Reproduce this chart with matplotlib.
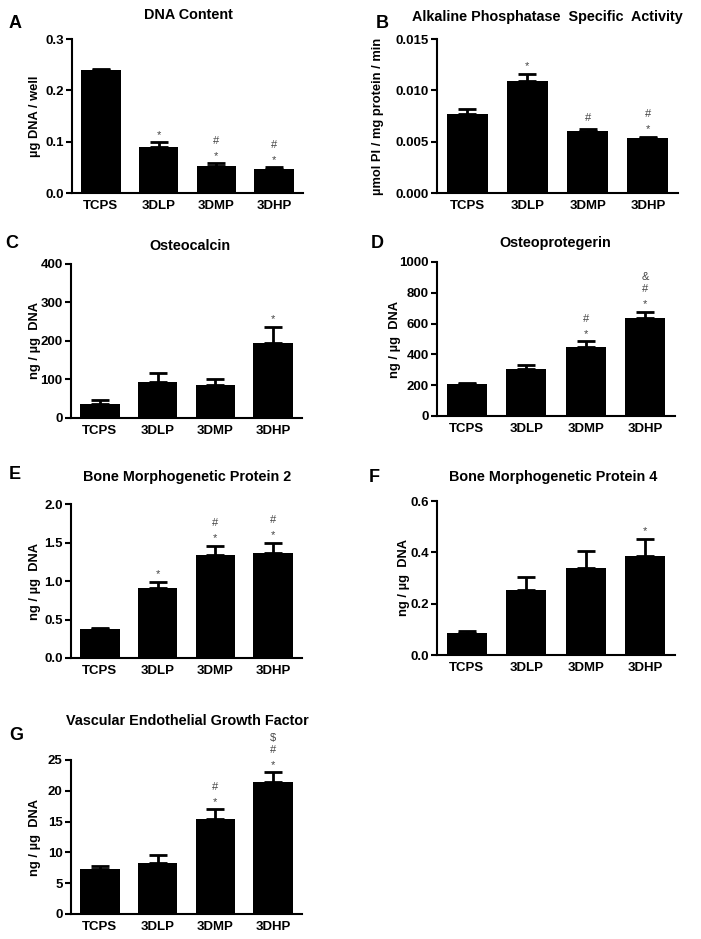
import matplotlib
matplotlib.use('Agg')
import matplotlib.pyplot as plt

plt.rcParams['font.family'] = ['Liberation Sans', 'DejaVu Sans']

groups = ['TCPS', '3DLP', '3DMP', '3DHP']

# A - DNA content
dna_mean = [0.240, 0.089, 0.053, 0.047]
dna_err = [0.001, 0.010, 0.005, 0.003]
dna_sig = ['', '*', '*#', '*#']

# B - ALP specific activity
alp_mean = [0.0077, 0.0109, 0.0060, 0.0054]
alp_err = [0.0005, 0.0007, 0.0002, 0.0001]
alp_sig = ['', '*', '#', '*#']

# C - osteocalcin
ocn_mean = [37, 94, 87, 195]
ocn_err = [10, 23, 14, 41]
ocn_sig = ['', '', '', '*']

# D - osteoprotegerin
opg_mean = [207, 308, 447, 636]
opg_err = [8, 22, 38, 42]
opg_sig = ['', '', '*#', '*#&']

# E - BMP-2
bmp2_mean = [0.375, 0.915, 1.34, 1.36]
bmp2_err = [0.013, 0.075, 0.12, 0.14]
bmp2_sig = ['', '*', '*#', '*#']

# F - BMP-4
bmp4_mean = [0.087, 0.252, 0.338, 0.387]
bmp4_err = [0.008, 0.052, 0.066, 0.065]
bmp4_sig = ['', '', '', '*']

# G - VEGF
vegf_mean = [7.3, 8.3, 15.5, 21.5]
vegf_err = [0.5, 1.2, 1.5, 1.5]
vegf_sig = ['', '', '*#', '*#$']

W, H = 701, 939
fig = plt.figure(figsize=(W / 100, H / 100), dpi=100)

# glyph centre above baseline, in px
glyph_mid = {'*': 5.9, '#': 3.7, '&': 3.8, '$': 3.6}


def px_axes(l, t, r, b):
    return fig.add_axes([l / W, 1 - b / H, (r - l) / W, (b - t) / H])


def panel(box, mean, err, sig, ylim, yticks, fmt, ylabel, label_x):
    ax = px_axes(*box)
    x = list(range(len(groups)))
    ax.bar(x, mean, width=0.68, color='black', zorder=2)
    ax.errorbar(x, mean, yerr=[[0] * len(err), err], fmt='none', ecolor='black',
                elinewidth=2, capsize=6.5, capthick=2, zorder=1)
    for i, s in enumerate(sig):
        for k, ch in enumerate(s):
            centre = 10.5 + 12.3 * k
            if ch == '#' and k == 0:
                centre = 12
            dy = (centre - glyph_mid[ch]) * 0.72
            ax.annotate(ch, (i, mean[i] + err[i]), xytext=(0, dy),
                        textcoords='offset points', ha='center', va='baseline',
                        fontsize=8, color='#444444')
    ax.set_xlim(-0.5, 3.5)
    ax.set_ylim(*ylim)
    ax.set_yticks(yticks)
    ax.set_yticklabels([fmt.format(v) for v in yticks], fontweight='bold', fontsize=9.5)
    ax.set_xticks(x)
    ax.set_xticklabels(groups, fontweight='bold', fontsize=9.5)
    ax.tick_params(axis='x', length=0, pad=5)
    ax.tick_params(axis='y', length=4.5, width=1.5, pad=1.5)
    for sp in ['top', 'right']:
        ax.spines[sp].set_visible(False)
    for sp in ['left', 'bottom']:
        ax.spines[sp].set_linewidth(1.5)
    ax.set_ylabel(ylabel, fontweight='bold', fontsize=9.3)
    l, t, r, b = box
    ax.yaxis.set_label_coords((label_x + 8 - l) / (r - l), 0.5)
    return ax


panel((72, 39, 303, 193), dna_mean, dna_err, dna_sig, (0, 0.3),
      [0.0, 0.1, 0.2, 0.3], '{:.1f}', 'µg DNA / well', 33)
panel((437, 39, 678, 193), alp_mean, alp_err, alp_sig, (0, 0.015),
      [0.0, 0.005, 0.010, 0.015], '{:.3f}', 'µmol PI / mg protein / min', 376)
panel((71, 264, 302, 418), ocn_mean, ocn_err, ocn_sig, (0, 400),
      [0, 100, 200, 300, 400], '{:d}', 'ng / µg  DNA', 33)
panel((437, 262, 675, 416), opg_mean, opg_err, opg_sig, (0, 1000),
      [0, 200, 400, 600, 800, 1000], '{:d}', 'ng / µg  DNA', 393)
panel((71, 504, 302, 658), bmp2_mean, bmp2_err, bmp2_sig, (0, 2.0),
      [0.0, 0.5, 1.0, 1.5, 2.0], '{:.1f}', 'ng / µg  DNA', 33)
panel((437, 501, 675, 655), bmp4_mean, bmp4_err, bmp4_sig, (0, 0.6),
      [0.0, 0.2, 0.4, 0.6], '{:.1f}', 'ng / µg  DNA', 402)
panel((71, 760, 302, 914), vegf_mean, vegf_err, vegf_sig, (0, 25),
      [0, 5, 10, 15, 20, 25], '{:d}', 'ng / µg  DNA', 33)

titles = [('DNA Content', 188, 15), ('Alkaline Phosphatase  Specific  Activity', 547, 17),
          ('Osteocalcin', 190, 246), ('Osteoprotegerin', 555, 243),
          ('Bone Morphogenetic Protein 2', 187, 477), ('Bone Morphogenetic Protein 4', 553, 477),
          ('Vascular Endothelial Growth Factor', 187, 721)]
for t, x, y in titles:
    fig.text(x / W, 1 - y / H, t, ha='center', va='center', fontweight='bold', fontsize=10.4)

letters = [('A', 15, 23), ('B', 382, 24), ('C', 12, 244), ('D', 377, 244),
           ('E', 15, 475), ('F', 374, 477), ('G', 16, 735)]
for t, x, y in letters:
    fig.text(x / W, 1 - y / H, t, ha='center', va='center', fontweight='bold', fontsize=13)

fig.savefig('out.png', dpi=100)
